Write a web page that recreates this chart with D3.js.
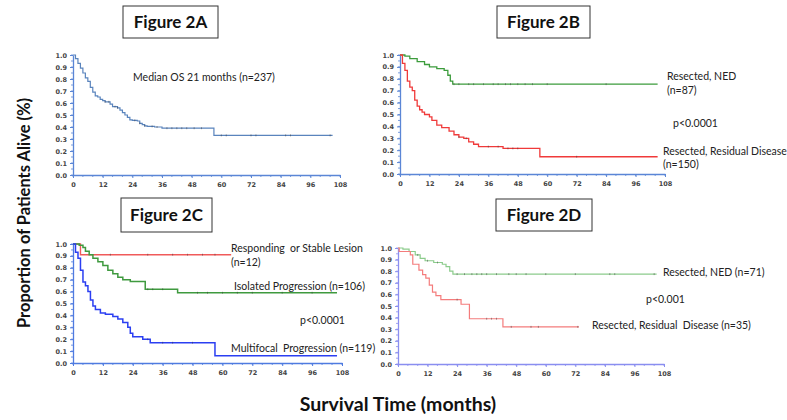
<!DOCTYPE html>
<html>
<head>
  <meta charset="utf-8">
  <title>Figure 2</title>
  <style>
    body { margin: 0; background: #fff; }
    .tick text { font-family: "DejaVu Sans", sans-serif; font-size: 6.5px; fill: #444; font-weight: bold; }
    .note { font-family: Lato, "Open Sans", sans-serif; font-size: 10.5px; fill: #222; }
    .fig { font-family: Lato, "Open Sans", sans-serif; font-size: 17px; font-weight: bold; fill: #111; }
    .axtitle { font-family: Lato, "Open Sans", sans-serif; font-weight: bold; fill: #111; }
  </style>
</head>
<body>
<svg width="787" height="420"></svg>
<script src="https://cdnjs.cloudflare.com/ajax/libs/d3/7.8.5/d3.min.js"></script>
<script>
// tick labels
const monthTicks = [0, 12, 24, 36, 48, 60, 72, 84, 96, 108];
const propTicks = [0, 0.1, 0.2, 0.3, 0.4, 0.5, 0.6, 0.7, 0.8, 0.9, 1.0];

// Figure 2A - all patients (n=237)
const aTime = [0, 1, 2, 3, 4, 5, 6, 7, 8, 9, 10, 11, 12, 13, 15, 16, 18, 19, 20, 21, 22, 23, 24, 26, 27, 28, 29, 30, 33, 36, 57, 105];
const aSurv = [1.0, 0.97, 0.93, 0.89, 0.85, 0.81, 0.78, 0.73, 0.69, 0.66, 0.65, 0.63, 0.62, 0.61, 0.59, 0.57, 0.56, 0.54, 0.52, 0.50, 0.48, 0.46, 0.455, 0.45, 0.43, 0.42, 0.41, 0.405, 0.40, 0.39, 0.33, 0.33];
const aCens = [13, 14.5, 17, 18, 25, 27, 29, 32, 34, 38, 40, 42, 44, 46, 49, 52, 60, 62, 72, 74, 86, 88, 104];

// Figure 2B - resected NED (n=87) vs residual disease (n=150)
const bNedTime = [0, 2, 4, 7, 10, 12, 15, 18, 19.5, 20.5, 21.5, 105];
const bNedSurv = [1.0, 0.99, 0.97, 0.945, 0.92, 0.90, 0.885, 0.87, 0.83, 0.78, 0.755, 0.755];
const bNedCens = [22, 24, 28, 30, 34, 38, 40, 43, 45, 48, 51, 54, 60, 84];
const bResTime = [0, 1, 2, 3, 4, 5, 6, 7, 8, 9, 10, 12, 13, 15, 17, 20, 22, 24, 26, 28, 30, 32, 42, 57, 105];
const bResSurv = [1.0, 0.93, 0.87, 0.78, 0.73, 0.70, 0.62, 0.57, 0.54, 0.52, 0.50, 0.48, 0.45, 0.41, 0.39, 0.36, 0.33, 0.31, 0.30, 0.27, 0.25, 0.23, 0.215, 0.145, 0.145];
const bResCens = [24, 27, 36, 40, 44, 46, 48, 72];

// Figure 2C - responding/stable (n=12), isolated (n=106), multifocal (n=119)
const cStableTime = [0, 3, 63.5];
const cStableSurv = [1.0, 0.91, 0.91];
const cStableCens = [15, 30, 40, 46, 52, 57];
const cIsoTime = [0, 2.5, 4, 5, 6.5, 8, 10, 12, 14, 16, 18, 20, 23, 29, 42, 106];
const cIsoSurv = [1.0, 0.99, 0.97, 0.94, 0.91, 0.88, 0.85, 0.82, 0.78, 0.75, 0.72, 0.70, 0.685, 0.62, 0.59, 0.59];
const cIsoCens = [30, 32, 36, 50, 54, 60, 66, 72, 84, 96];
const cMultiTime = [0, 1, 2, 3, 4, 5, 6, 7, 8, 9, 11, 13, 16, 18, 20, 22, 23, 24, 28, 31, 57, 106];
const cMultiSurv = [1.0, 0.93, 0.88, 0.78, 0.68, 0.65, 0.60, 0.53, 0.48, 0.45, 0.42, 0.41, 0.39, 0.37, 0.34, 0.30, 0.25, 0.22, 0.20, 0.17, 0.06, 0.06];
const cMultiCens = [30, 36, 40, 48];

// Figure 2D - resected NED (n=71) vs residual disease (n=35)
const dNedTime = [0, 2, 4.5, 7, 9, 11, 14.5, 18, 19.5, 21, 22.3, 105];
const dNedSurv = [1.0, 0.99, 0.97, 0.94, 0.91, 0.89, 0.875, 0.86, 0.84, 0.80, 0.775, 0.775];
const dNedCens = [8, 12, 16, 24, 27, 30, 32, 34, 36, 40, 45, 48, 52, 60, 72, 86, 88, 104];
const dResTime = [0, 0.5, 5, 6, 8.5, 10, 11.3, 12.7, 14, 15.4, 17.4, 25.6, 29, 42.6, 73.5];
const dResSurv = [1.0, 0.97, 0.94, 0.86, 0.81, 0.77, 0.74, 0.68, 0.62, 0.59, 0.555, 0.515, 0.39, 0.32, 0.32];
const dResCens = [24, 36, 38, 40, 46, 54, 57, 73];

const svg = d3.select('svg');

// panel placement
const panels = [
  { title: 'Figure 2A', box: [123, 6, 95, 32], x0: 73, x1: 340, yTop: 55, yBot: 175, axis: '#5b86d6',
    series: [{ t: aTime, s: aSurv, c: aCens, color: '#5a84bd', w: 1.2 }] },
  { title: 'Figure 2B', box: [497, 6, 93, 32], x0: 400, x1: 665, yTop: 55, yBot: 174, axis: '#5b86d6',
    series: [{ t: bNedTime, s: bNedSurv, c: bNedCens, color: '#3c9c3c', w: 1.3 },
             { t: bResTime, s: bResSurv, c: bResCens, color: '#f03a3a', w: 1.3 }] },
  { title: 'Figure 2C', box: [121, 198, 91, 34], x0: 73, x1: 342, yTop: 244, yBot: 363, axis: '#4f7be0',
    series: [{ t: cStableTime, s: cStableSurv, c: cStableCens, color: '#f05a5a', w: 1.4 },
             { t: cIsoTime, s: cIsoSurv, c: cIsoCens, color: '#3f9a3f', w: 1.5 },
             { t: cMultiTime, s: cMultiSurv, c: cMultiCens, color: '#2b3ff2', w: 1.5 }] },
  { title: 'Figure 2D', box: [496, 199, 96, 32], x0: 398, x1: 664, yTop: 248, yBot: 364, axis: '#8a8ef0',
    series: [{ t: dNedTime, s: dNedSurv, c: dNedCens, color: '#8ccc8c', w: 1.2 },
             { t: dResTime, s: dResSurv, c: dResCens, color: '#f47c7c', w: 1.2 }] }
];

panels.forEach(p => {
  const x = d3.scaleLinear().domain([0, 108]).range([p.x0, p.x1]);
  const y = d3.scaleLinear().domain([0, 1]).range([p.yBot, p.yTop]);

  // title box
  svg.append('rect')
     .attr('x', p.box[0]).attr('y', p.box[1])
     .attr('width', p.box[2]).attr('height', p.box[3])
     .attr('fill', '#fff').attr('stroke', '#333').attr('stroke-width', 1);
  svg.append('text').attr('class', 'fig')
     .attr('x', p.box[0] + p.box[2] / 2).attr('y', p.box[1] + p.box[3] / 2 + 6)
     .attr('text-anchor', 'middle').text(p.title);

  // minor ticks
  const g = svg.append('g');
  g.selectAll('line.mx').data(d3.range(0, 109, 4)).enter().append('line')
   .attr('x1', d => x(d)).attr('x2', d => x(d))
   .attr('y1', p.yBot).attr('y2', p.yBot + 2)
   .attr('stroke', p.axis).attr('stroke-width', 0.8);
  g.selectAll('line.my').data(d3.range(0, 1.001, 0.05)).enter().append('line')
   .attr('x1', p.x0 - 2).attr('x2', p.x0)
   .attr('y1', d => y(d)).attr('y2', d => y(d))
   .attr('stroke', p.axis).attr('stroke-width', 0.8);

  const xAxis = d3.axisBottom(x).tickValues(monthTicks).tickSize(3).tickSizeOuter(0)
                  .tickFormat(d3.format('d'));
  const yAxis = d3.axisLeft(y).tickValues(propTicks).tickSize(3).tickSizeOuter(0)
                  .tickFormat(d3.format('.1f'));

  const gx = svg.append('g').attr('transform', 'translate(0,' + p.yBot + ')').call(xAxis);
  const gy = svg.append('g').attr('transform', 'translate(' + p.x0 + ',0)').call(yAxis);
  [gx, gy].forEach(a => {
    a.select('.domain').attr('stroke', p.axis).attr('stroke-width', 1.3);
    a.selectAll('.tick line').attr('stroke', p.axis).attr('stroke-width', 1);
    a.selectAll('.tick text').attr('font-family', null).attr('font-size', null);
  });
  gx.selectAll('.tick text').attr('dy', '0.9em');

  // survival curves
  const line = d3.line().curve(d3.curveStepAfter)
                 .x(d => x(d[0])).y(d => y(d[1]));
  p.series.forEach(s => {
    const pts = s.t.map((t, i) => [t, s.s[i]]);
    svg.append('path').datum(pts)
       .attr('d', line).attr('fill', 'none')
       .attr('stroke', s.color).attr('stroke-width', s.w);
    // censor marks
    const survAt = t => {
      let v = s.s[0];
      s.t.forEach((tt, i) => { if (tt <= t) v = s.s[i]; });
      return v;
    };
    svg.selectAll(null).data(s.c).enter().append('line')
       .attr('x1', d => x(d)).attr('x2', d => x(d))
       .attr('y1', d => y(survAt(d)) - 1).attr('y2', d => y(survAt(d)) + 1)
       .attr('stroke', '#333').attr('stroke-width', 0.8).attr('opacity', 0.55);
  });
});

// annotations
const notes = [
  ['Median OS 21 months (n=237)', 133, 81],
  ['Resected, NED', 667, 80],
  ['(n=87)', 667, 94],
  ['p<0.0001', 673, 127],
  ['Resected, Residual Disease', 663, 155],
  ['(n=150)', 663, 168],
  ['Responding  or Stable Lesion', 231, 252],
  ['(n=12)', 231, 266],
  ['Isolated Progression (n=106)', 234, 290],
  ['p<0.0001', 300, 324],
  ['Multifocal  Progression (n=119)', 231, 352],
  ['Resected, NED (n=71)', 663, 276],
  ['p<0.001', 646, 303],
  ['Resected, Residual  Disease (n=35)', 592, 329]
];
svg.selectAll('text.note').data(notes).enter().append('text')
   .attr('class', 'note').attr('x', d => d[1]).attr('y', d => d[2])
   .attr('xml:space', 'preserve').text(d => d[0]);

svg.append('text').attr('class', 'axtitle')
   .attr('x', 398).attr('y', 411).attr('text-anchor', 'middle')
   .attr('font-size', 19.5)
   .text('Survival Time (months)');
svg.append('text').attr('class', 'axtitle')
   .attr('transform', 'translate(30,213) rotate(-90)').attr('text-anchor', 'middle')
   .attr('font-size', 16.5)
   .text('Proportion of Patients Alive (%)');
</script>
</body>
</html>
